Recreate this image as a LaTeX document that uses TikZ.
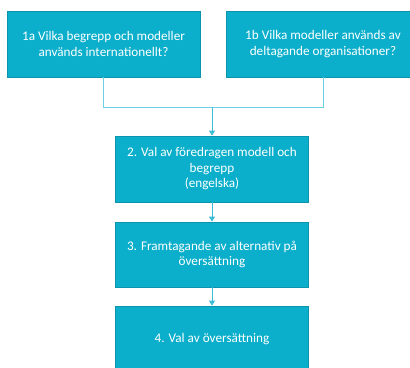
\documentclass[tikz,border=0pt]{standalone}
\usepackage{fontspec}
\setmainfont{Carlito}
\usetikzlibrary{arrows.meta}
\definecolor{boxfill}{HTML}{0BAFCB}
\definecolor{boxedge}{HTML}{0E93AD}
\definecolor{linkcol}{HTML}{6CCFE3}
\definecolor{arrowcol}{HTML}{3CBCD6}
\tikzset{
  stepbox/.style={draw=boxedge,line width=0.8pt,fill=boxfill,text=white,
    minimum width=6.78cm,minimum height=2.32cm,align=center,inner sep=2pt,
    font=\fontsize{13.2}{15.5}\selectfont},
  link/.style={draw=linkcol,line width=0.8pt},
  flow/.style={draw=arrowcol,line width=0.8pt,-{Triangle[length=5pt,width=6pt]}}
}
\begin{document}
\begin{tikzpicture}[scale=1.0]
\useasboundingbox (0,0) rectangle (14.41,12.90);
\node[stepbox] (qa) at (3.638,11.352) {1a Vilka begrepp och modeller\\anv\"ands internationellt?};
\node[stepbox] (qb) at (11.352,11.352) {1b Vilka modeller anv\"ands av\\deltagande organisationer?};
\node[stepbox] (choice) at (7.451,6.959) {2. Val av f\"oredragen modell och\\begrepp\\(engelska)};
\node[stepbox,minimum height=2.285cm] (alt) at (7.451,3.954) {3. Framtagande av alternativ p\aa\\\"overs\"attning};
\node[stepbox] (pick) at (7.451,0.984) {4. Val av \"overs\"attning};
\coordinate (join) at (7.451,9.138);
  \draw[link] (qa.south) |- (join);
  \draw[link] (qb.south) |- (join);
  \draw[flow] (join) -- (choice.north);
  \draw[flow] (choice.south) -- (alt.north);
  \draw[flow] (alt.south) -- (pick.north);
\end{tikzpicture}
\end{document}
